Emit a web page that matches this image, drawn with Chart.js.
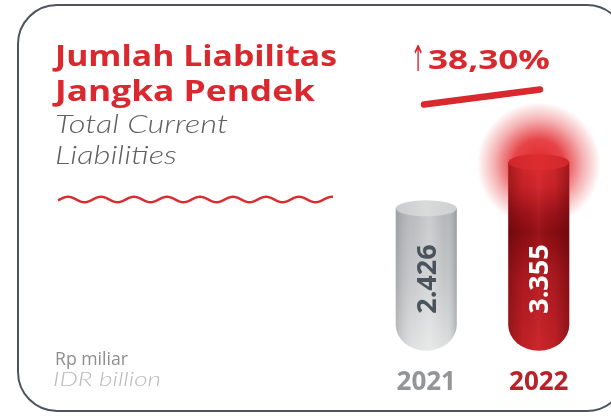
<!DOCTYPE html>
<html>
<head>
<meta charset="utf-8">
<script src="https://cdn.jsdelivr.net/npm/chart.js@4.4.1/dist/chart.umd.min.js"></script>
<style>
  html, body { margin: 0; padding: 0; background: #ffffff; }
  #stage { position: relative; width: 611px; height: 416px; overflow: hidden; background: #ffffff; }
  #card {
    position: absolute; left: 17px; top: 4px; width: 610px; height: 408px;
    border: 2px solid #4d545c; border-radius: 40px; box-sizing: border-box;
  }
  #chart { position: absolute; left: 0; top: 0; }
  #decor { position: absolute; left: 0; top: 0; }
  .t { position: absolute; white-space: nowrap; line-height: 1; display: inline-block; font-family: "Open Sans", sans-serif; transform-origin: 0 0; }
  .title { color: #d9292e; font-weight: 700; font-size: 28px; }
  .sub { color: #5f6061; font-family: "Lato", "Open Sans", sans-serif; font-style: italic; font-weight: 300; font-size: 25px; }
  .unit { color: #8c8d8f; font-weight: 400; font-size: 18px; }
  .unit-en { color: #b9babb; font-family: "Lato", "Open Sans", sans-serif; font-style: italic; font-weight: 300; font-size: 19px; }
  .growth { color: #d9292e; font-weight: 700; font-size: 26px; }
  .arrow { color: #d9292e; font-family: "DejaVu Sans", sans-serif; font-weight: 400; font-size: 36px; }
</style>
</head>
<body>
<div id="stage">
  <div id="card"></div>
  <svg id="decor" width="611" height="416"></svg>
  <canvas id="chart" width="611" height="416"></canvas>

  <span class="t title" style="left:55px; top:41px;" data-w="282">Jumlah Liabilitas</span>
  <span class="t title" style="left:55px; top:76px;" data-w="260">Jangka Pendek</span>
  <span class="t sub" style="left:55px; top:111px;" data-w="173">Total Current</span>
  <span class="t sub" style="left:55px; top:142px;" data-w="122">Liabilities</span>
  <span class="t arrow" style="left:411px; top:41px;" data-w="14">↑</span>
  <span class="t growth" style="left:428px; top:46px;" data-w="122">38,30%</span>
  <span class="t unit" style="left:55px; top:349px;" data-w="73">Rp miliar</span>
  <span class="t unit-en" style="left:53px; top:369px;" data-w="108">IDR billion</span>
</div>

<script>
// Short-term liabilities, Rp billion
const categories = ['2021', '2022'];
const values = [2426, 3355];
const yearColors = ['#939598', '#b8232b'];
const valueColors = ['#4b535c', '#ffffff'];

// Value axis range (the bars grow from the bottom of the range)
const yMin = -442;
const yMax = 4607;

function formatId(v) {
  return String(v).replace(/\B(?=(\d{3})+(?!\d))/g, '.');
}

// Widen each line of text horizontally to span the given width
function fitText() {
  document.querySelectorAll('[data-w]').forEach(el => {
    el.style.transform = 'none';
    const w = el.getBoundingClientRect().width;
    const target = parseFloat(el.dataset.w);
    el.style.transform = 'scaleX(' + (target / w).toFixed(4) + ')';
  });
}

// Wavy divider and the growth underline
function drawDecor() {
  const svg = document.getElementById('decor');
  const ns = 'http://www.w3.org/2000/svg';
  let d = '';
  for (let x = 58; x <= 333; x += 0.5) {
    const y = 199.5 - 2.7 * Math.cos(2 * Math.PI * (x - 68) / 33);
    d += (d ? ' L' : 'M') + x.toFixed(1) + ' ' + y.toFixed(2);
  }
  const wave = document.createElementNS(ns, 'path');
  wave.setAttribute('d', d);
  wave.setAttribute('fill', 'none');
  wave.setAttribute('stroke', '#dc2b2e');
  wave.setAttribute('stroke-width', '2.4');
  svg.appendChild(wave);

  const line = document.createElementNS(ns, 'line');
  line.setAttribute('x1', 424); line.setAttribute('y1', 104.5);
  line.setAttribute('x2', 540); line.setAttribute('y2', 89.5);
  line.setAttribute('stroke', '#d9292e');
  line.setAttribute('stroke-width', '6.5');
  line.setAttribute('stroke-linecap', 'round');
  svg.appendChild(line);
}

// Draws each bar as a shaded cylinder with a rounded foot
const cylinders = {
  id: 'cylinders',
  afterDatasetsDraw(chart) {
    const ctx = chart.ctx;
    const meta = chart.getDatasetMeta(0);
    const last = meta.data.length - 1;
    meta.data.forEach((bar, i) => {
      const p = bar.getProps(['x', 'y', 'base', 'width'], true);
      const r = p.width / 2;
      const x0 = p.x - r, x1 = p.x + r;
      const top = p.y, base = p.base;
      const footRy = 26, capRy = 8;
      const red = i === last;

      ctx.save();

      if (red) {
        const g = ctx.createRadialGradient(p.x, top + 2, 0, p.x, top + 2, 62);
        g.addColorStop(0, 'rgba(226,36,40,1)');
        g.addColorStop(0.4, 'rgba(226,36,40,0.85)');
        g.addColorStop(0.72, 'rgba(226,36,40,0.35)');
        g.addColorStop(1, 'rgba(226,36,40,0)');
        ctx.fillStyle = g;
        ctx.beginPath();
        ctx.arc(p.x, top + 2, 62, 0, Math.PI * 2);
        ctx.fill();
      }

      // body outline
      const body = new Path2D();
      body.moveTo(x0, top);
      body.lineTo(x0, base - footRy);
      body.ellipse(p.x, base - footRy, r, footRy, 0, Math.PI, 0, true);
      body.lineTo(x1, top);
      body.closePath();

      const v = ctx.createLinearGradient(0, top, 0, base);
      if (red) {
        v.addColorStop(0, '#d9292d');
        v.addColorStop(0.13, '#cc2429');
        v.addColorStop(0.27, '#a0131a');
        v.addColorStop(0.37, '#8a0d12');
        v.addColorStop(0.6, '#ae1a20');
        v.addColorStop(1, '#c72329');
      } else {
        v.addColorStop(0, '#b2b5b7');
        v.addColorStop(0.5, '#c3c5c7');
        v.addColorStop(1, '#dfe0e0');
      }
      ctx.fillStyle = v;
      ctx.fill(body);

      const h = ctx.createLinearGradient(x0, 0, x1, 0);
      if (red) {
        h.addColorStop(0, 'rgba(70,0,5,0.35)');
        h.addColorStop(0.25, 'rgba(70,0,5,0.05)');
        h.addColorStop(0.5, 'rgba(255,80,80,0.12)');
        h.addColorStop(0.75, 'rgba(70,0,5,0.05)');
        h.addColorStop(1, 'rgba(70,0,5,0.4)');
      } else {
        h.addColorStop(0, 'rgba(80,85,90,0.25)');
        h.addColorStop(0.3, 'rgba(255,255,255,0.08)');
        h.addColorStop(0.55, 'rgba(255,255,255,0.3)');
        h.addColorStop(0.8, 'rgba(255,255,255,0.0)');
        h.addColorStop(1, 'rgba(80,85,90,0.3)');
      }
      ctx.fillStyle = h;
      ctx.fill(body);

      // top cap
      ctx.beginPath();
      ctx.ellipse(p.x, top, r, capRy, 0, 0, Math.PI * 2);
      const c = ctx.createLinearGradient(x0, 0, x1, 0);
      if (red) {
        c.addColorStop(0, '#cf262b');
        c.addColorStop(0.5, '#dd2d30');
        c.addColorStop(1, '#d0272b');
      } else {
        c.addColorStop(0, '#c9cbcc');
        c.addColorStop(0.5, '#d9dada');
        c.addColorStop(1, '#cdcfd0');
      }
      ctx.fillStyle = c;
      ctx.fill();

      // value, reading upwards
      ctx.translate(p.x + 1, base - 37);
      ctx.rotate(-Math.PI / 2);
      ctx.font = '700 27px "Open Sans", sans-serif';
      ctx.textAlign = 'left';
      ctx.textBaseline = 'middle';
      ctx.fillStyle = valueColors[i];
      ctx.fillText(formatId(values[i]), 0, 1);

      ctx.restore();
    });
  }
};

function build() {
  drawDecor();
  fitText();
  new Chart(document.getElementById('chart'), {
    type: 'bar',
    data: {
      labels: categories,
      datasets: [{
        data: values,
        base: yMin,
        backgroundColor: 'rgba(0,0,0,0)',
        borderWidth: 0,
        barThickness: 61
      }]
    },
    options: {
      responsive: false,
      animation: false,
      devicePixelRatio: 1,
      layout: { padding: { left: 370, right: 16, top: 100, bottom: 2 } },
      plugins: { legend: { display: false }, tooltip: { enabled: false }, title: { display: false } },
      scales: {
        x: {
          grid: { display: false, drawTicks: false },
          border: { display: false },
          ticks: {
            padding: 16,
            color: (c) => yearColors[c.index],
            font: { family: '"Open Sans", sans-serif', weight: '700', size: 26 }
          }
        },
        y: { display: false, min: yMin, max: yMax }
      }
    },
    plugins: [cylinders]
  });
}

if (document.fonts && document.fonts.ready) {
  document.fonts.ready.then(build);
} else {
  build();
}
</script>
</body>
</html>
